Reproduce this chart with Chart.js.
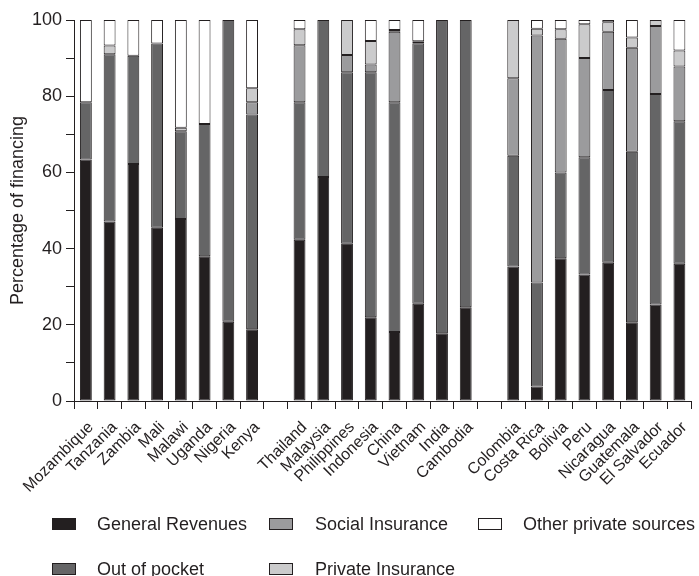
<!DOCTYPE html>
<html>
<head>
<meta charset="utf-8">
<script src="https://cdn.jsdelivr.net/npm/chart.js@4.4.1/dist/chart.umd.min.js"></script>
<style>
  html, body { margin: 0; padding: 0; background: #fff; overflow: hidden; }
  #wrap { width: 699px; height: 576px; overflow: hidden; }
  canvas { display: block; }
</style>
</head>
<body>
<div id="wrap"><canvas id="chart" width="702" height="576"></canvas></div>
<script>
// countries, empty strings are the gaps between regions
const countries = [
  "Mozambique", "Tanzania", "Zambia", "Mali", "Malawi", "Uganda", "Nigeria", "Kenya", "",
  "Thailand", "Malaysia", "Philippines", "Indonesia", "China", "Vietnam", "India", "Cambodia", "",
  "Colombia", "Costa Rica", "Bolivia", "Peru", "Nicaragua", "Guatemala", "El Salvador", "Ecuador"
];

// share of financing (%), stacked bottom to top
const generalRevenues = [63.4, 47.1, 62.2, 45.5, 47.8, 38.0, 20.8, 18.8, null,
  42.3, 58.8, 41.3, 22.0, 18.1, 25.5, 17.8, 24.6, null,
  35.3, 3.8, 37.5, 33.2, 36.3, 20.7, 25.3, 36.0];
const outOfPocket = [15.0, 43.9, 28.4, 48.3, 23.0, 34.7, 79.2, 56.4, null,
  36.1, 41.2, 45.0, 64.3, 60.3, 68.4, 82.2, 75.4, null,
  29.1, 27.3, 22.5, 30.8, 45.3, 44.7, 55.3, 37.4];
const socialInsurance = [0, 0, 0, 0, 0, 0, 0, 3.2, null,
  15.0, 0, 4.5, 2.0, 18.5, 0.5, 0, 0, null,
  20.3, 64.8, 35.1, 26.0, 15.3, 27.3, 17.8, 14.4];
const privateInsurance = [0, 2.3, 0, 0, 0.9, 0, 0, 3.7, null,
  4.2, 0, 9.2, 6.2, 0.5, 0, 0, 0, null,
  15.3, 1.8, 2.5, 8.9, 2.5, 2.7, 1.6, 4.2];
const otherPrivate = [21.6, 6.7, 9.4, 6.2, 28.3, 27.3, 0, 17.9, null,
  2.4, 0, 0, 5.5, 2.6, 5.6, 0, 0, null,
  0, 2.3, 2.4, 1.1, 0.6, 4.6, 0, 8.0];

const yTicks = [0, 20, 40, 60, 80, 100];

const INK = "#231f20";
const FONT = "'Liberation Sans', Arial, Helvetica, sans-serif";
const FSIZE = 18;

const series = [
  { label: "General Revenues", data: generalRevenues, color: INK },
  { label: "Out of pocket", data: outOfPocket, color: "#656566" },
  { label: "Social Insurance", data: socialInsurance, color: "#9b9b9d" },
  { label: "Private Insurance", data: privateInsurance, color: "#cbcbcc" },
  { label: "Other private sources", data: otherPrivate, color: "#ffffff" }
];

// legend in the original is laid out column-wise in a 3x2 grid
const legendPlugin = {
  id: "gridLegend",
  afterDraw(chart) {
    const ctx = chart.ctx;
    const cols = [[52, 97], [269, 315], [478, 523]];
    const rows = [524, 569];
    const order = [[0, 0], [0, 1], [1, 0], [1, 1], [2, 0]];
    ctx.save();
    ctx.font = FSIZE + "px " + FONT;
    ctx.textBaseline = "middle";
    series.forEach((s, i) => {
      const [c, r] = order[i];
      const bx = cols[c][0], tx = cols[c][1], y = rows[r];
      ctx.fillStyle = s.color;
      ctx.fillRect(bx + 0.5, y - 5.5, 23, 11);
      ctx.strokeStyle = INK;
      ctx.lineWidth = 1;
      ctx.strokeRect(bx + 0.5, y - 5.5, 23, 11);
      ctx.fillStyle = INK;
      ctx.fillText(s.label, tx, y + 1);
    });
    ctx.restore();
  }
};

new Chart(document.getElementById("chart"), {
  type: "bar",
  data: {
    labels: countries,
    datasets: series.map(s => ({
      label: s.label,
      data: s.data,
      backgroundColor: s.color,
      borderColor: INK,
      borderWidth: 1,
      borderSkipped: false,
      categoryPercentage: 1,
      barPercentage: 0.5
    }))
  },
  options: {
    responsive: false,
    animation: false,
    devicePixelRatio: 1,
    layout: { padding: { top: 20, right: 1, bottom: 0, left: 0 } },
    plugins: {
      legend: { display: false },
      tooltip: { enabled: false }
    },
    scales: {
      x: {
        stacked: true,
        grid: { drawOnChartArea: false, tickLength: 8, color: INK, offset: true },
        border: { color: INK, width: 1 },
        ticks: {
          autoSkip: false,
          maxRotation: 45,
          minRotation: 45,
          padding: 9,
          labelOffset: 5,
          color: INK,
          font: { family: FONT, size: 16 }
        },
        afterFit(scale) { scale.height = 175; }
      },
      y: {
        stacked: true,
        min: 0,
        max: 100,
        grid: { drawOnChartArea: false, tickLength: 8, color: INK },
        border: { color: INK, width: 1 },
        ticks: {
          stepSize: 10,
          padding: 4,
          color: INK,
          font: { family: FONT, size: FSIZE },
          callback: v => (yTicks.includes(v) ? v : "")
        },
        title: {
          display: true,
          text: "Percentage of financing",
          color: INK,
          font: { family: FONT, size: FSIZE },
          padding: { top: 7, bottom: 0 }
        },
        afterFit(scale) { scale.width = 74; }
      }
    }
  },
  plugins: [legendPlugin]
});
</script>
</body>
</html>
